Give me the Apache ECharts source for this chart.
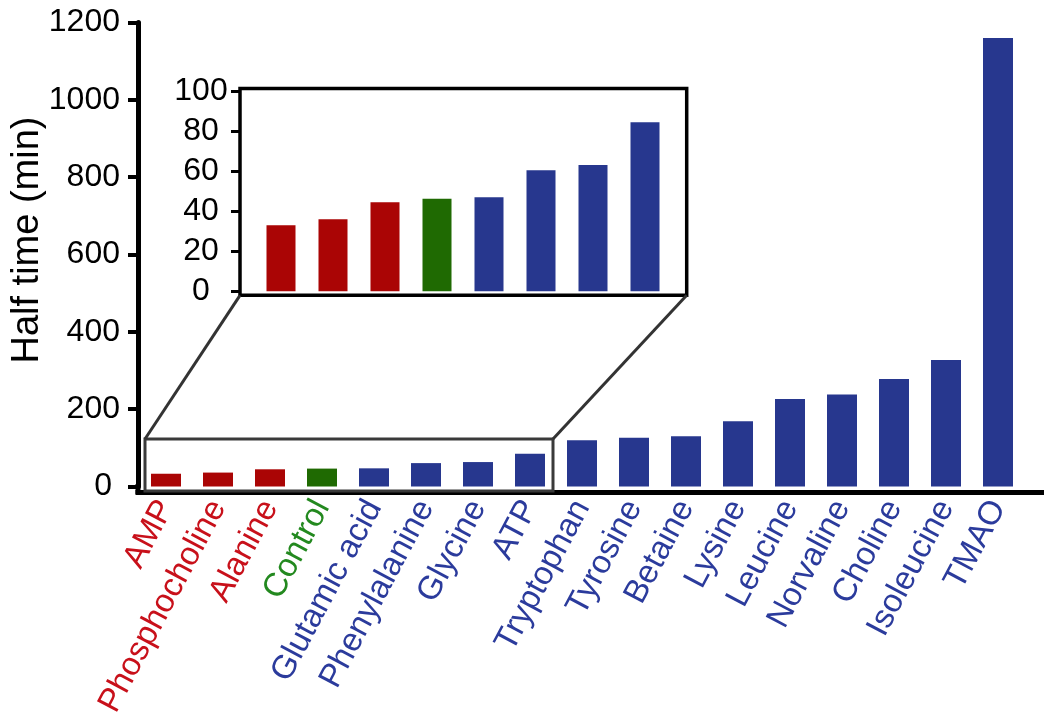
<!DOCTYPE html>
<html><head><meta charset="utf-8">
<script src="https://cdn.jsdelivr.net/npm/echarts@6/dist/echarts.min.js"></script>
<style>html,body{margin:0;padding:0;background:#fff}#c{width:1050px;height:725px}</style>
</head><body><div id="c"></div>
<script>
// ---- data ----
const categories = ['AMP','Phosphocholine','Alanine','Control','Glutamic acid','Phenylalanine','Glycine','ATP','Tryptophan','Tyrosine','Betaine','Lysine','Leucine','Norvaline','Choline','Isoleucine','TMAO'];
const groups = ['red','red','red','ctrl','blue','blue','blue','blue','blue','blue','blue','blue','blue','blue','blue','blue','blue'];
const halfTimes = [33, 36, 44.5, 46.3, 47, 60.5, 63.2, 84.5, 119.5, 126, 130, 168.6, 226, 238, 278, 327, 1160];
const insetCount = 8;
const mainAxis = {min: 0, max: 1200, interval: 200};
const insetAxis = {min: 0, max: 100, interval: 20};
const yTitle = 'Half time (min)';

// ---- styles ----
const barColor = {red: '#aa0505', ctrl: '#1f6a02', blue: '#27378e'};
const labelColor = {red: '#c8101a', ctrl: '#23891f', blue: '#2b3b9c'};
const FONT = 'Liberation Sans';

const catData = categories.map((c, i) => ({value: c, textStyle: {color: labelColor[groups[i]]}}));
const mainBars = halfTimes.map((v, i) => ({value: v, itemStyle: {color: barColor[groups[i]]}}));
const insetCats = categories.slice(0, insetCount);
const insetBars = halfTimes.slice(0, insetCount).map((v, i) => ({value: v, itemStyle: {color: barColor[groups[i]]}}));

const chart = echarts.init(document.getElementById('c'), null, {renderer: 'canvas'});
chart.setOption({
  animation: false,
  backgroundColor: '#fff',
  grid: [
    {left: 140, top: 22.5, width: 884, height: 464},
    {left: 255, top: 91.3, width: 416, height: 200}
  ],
  xAxis: [
    {type: 'category', gridIndex: 0, data: catData, offset: 6,
     axisLine: {show: true, onZero: false, lineStyle: {color: '#000', width: 5}},
     axisTick: {show: false},
     axisLabel: {rotate: 62, fontFamily: FONT, fontSize: 33, margin: 10, interval: 0, align: 'right', verticalAlign: 'top', padding: [6, 0, 0, 0]}},
    {type: 'category', gridIndex: 1, data: insetCats,
     axisLine: {show: false}, axisTick: {show: false}, axisLabel: {show: false}}
  ],
  yAxis: [
    {type: 'value', gridIndex: 0, min: mainAxis.min, max: mainAxis.max, interval: mainAxis.interval, offset: 2,
     axisLine: {show: true, lineStyle: {color: '#000', width: 5}},
     axisTick: {show: true, length: 10, lineStyle: {color: '#000', width: 4}},
     splitLine: {show: false},
     axisLabel: {color: '#000', fontFamily: FONT, fontSize: 32, margin: 18,
       formatter: v => v === 0 ? '{z|0}' : String(v),
       rich: {z: {fontFamily: FONT, fontSize: 32, color: '#000', padding: [0, 8, 0, 0]}}}},
    {type: 'value', gridIndex: 1, min: insetAxis.min, max: insetAxis.max, interval: insetAxis.interval, offset: 15,
     axisLine: {show: false},
     axisTick: {show: true, length: 9, lineStyle: {color: '#000', width: 3}},
     splitLine: {show: false},
     axisLabel: {color: '#000', fontFamily: FONT, fontSize: 32, margin: 39, align: 'center'}}
  ],
  series: [
    {type: 'bar', xAxisIndex: 0, yAxisIndex: 0, data: mainBars, barWidth: 30},
    {type: 'bar', xAxisIndex: 1, yAxisIndex: 1, data: insetBars, barWidth: 29}
  ],
  graphic: [
    {type: 'text', x: 27.5, y: 240, rotation: Math.PI / 2,
     style: {text: yTitle, fontFamily: FONT, fontSize: 38, fill: '#000', align: 'center', verticalAlign: 'middle'}},
    {type: 'line', shape: {x1: 1022, y1: 492.5, x2: 1044, y2: 492.5}, style: {stroke: '#000', lineWidth: 5}},
    {type: 'line', shape: {x1: 135.5, y1: 492.5, x2: 142, y2: 492.5}, style: {stroke: '#000', lineWidth: 5}},
    {type: 'line', shape: {x1: 138, y1: 484, x2: 138, y2: 494}, style: {stroke: '#000', lineWidth: 5}},
    {type: 'rect', shape: {x: 240, y: 88.5, width: 446.7, height: 206.8}, style: {fill: null, stroke: '#000', lineWidth: 3.5}, z: 10},
    {type: 'rect', shape: {x: 145, y: 439, width: 408, height: 52}, style: {fill: null, stroke: '#3a3a3a', lineWidth: 3}, z: 10},
    {type: 'line', shape: {x1: 145, y1: 439, x2: 240, y2: 295.3}, style: {stroke: '#333', lineWidth: 3}, z: 10},
    {type: 'line', shape: {x1: 553, y1: 439, x2: 686.7, y2: 295.3}, style: {stroke: '#333', lineWidth: 3}, z: 10}
  ]
});
</script>
</body></html>
